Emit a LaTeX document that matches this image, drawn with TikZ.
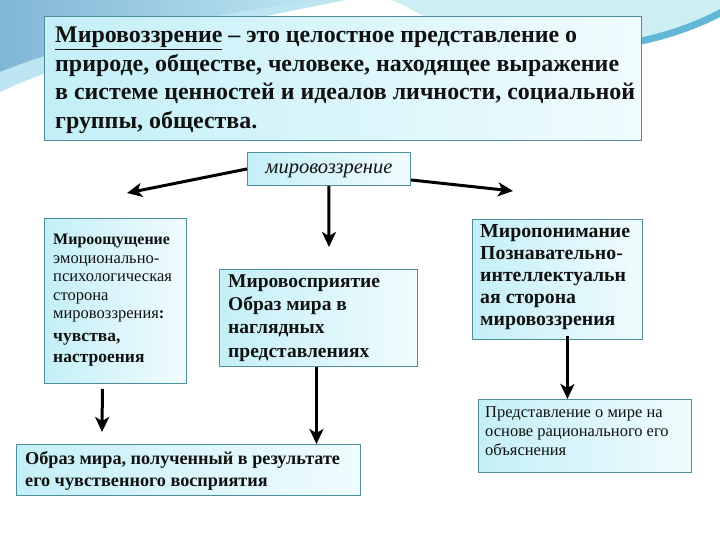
\documentclass[tikz,border=0pt]{standalone}
\usepackage{fontspec}
\setmainfont{Liberation Serif}
\usetikzlibrary{arrows.meta}
\definecolor{bord}{HTML}{4E8E9C}
\definecolor{cyL}{HTML}{C4EFF7}
\definecolor{cyR}{HTML}{F0FCFE}
\definecolor{bgA}{HTML}{80B6D6}
\definecolor{bgB}{HTML}{BDE5F1}
\definecolor{bgC}{HTML}{CDEFF3}
\definecolor{bgS}{HTML}{62B7D6}
\definecolor{ink}{HTML}{111111}
\tikzset{
  box/.style={draw=bord, line width=0.9pt, left color=cyL, right color=cyR, inner sep=0pt, anchor=north west},
  txt/.style={anchor=base west, inner sep=0pt, text=ink, align=left},
  arr/.style={-{Stealth[length=15pt,width=14pt,inset=4pt]}, line width=3pt, black},
}
\begin{document}
\begin{tikzpicture}[x=1pt,y=-1pt]
\useasboundingbox (0,0) rectangle (720,540);
\fill[white] (0,0) rectangle (720,540);
% background decoration
\fill[bgB] (0,0) -- (345,0) .. controls (250,20) and (100,45) .. (0,92) -- cycle;
\shade[left color=bgA, right color=bgB] (0,0) -- (320,0) .. controls (230,12) and (90,35) .. (0,72) -- cycle;
\fill[bgC] (392,0) -- (720,0) -- (720,12) .. controls (700,24) and (670,36) .. (640,44) -- (470,44) .. controls (440,25) and (415,10) .. cycle;
\draw[bgS, line width=7pt] (641,41) .. controls (670,35) and (700,24) .. (722,12);

% boxes
\node[box, minimum width=597pt, minimum height=124pt] (top) at (44,16) {};
\node[box, minimum width=163pt, minimum height=33pt] (mv) at (247,152) {};
\node[box, minimum width=142pt, minimum height=165pt] (lbox) at (44,218) {};
\node[box, minimum width=198pt, minimum height=97pt] (mbox) at (219,269) {};
\node[box, minimum width=170pt, minimum height=120pt] (rbox) at (472,219) {};
\node[box, minimum width=344pt, minimum height=51pt] (blbox) at (16,444) {};
\node[box, minimum width=213pt, minimum height=73pt] (brbox) at (478,399) {};

% texts (base anchor = baseline of last line)
\node[txt, font=\bfseries\fontsize{23.9}{28.5}\selectfont] (ttop) at (55,128.5)
  {\underline{Мировоззрение} – это целостное представление о\\
   природе, обществе, человеке, находящее выражение\\
   в системе ценностей и идеалов личности, социальной\\
   группы, общества.};
\node[font=\itshape\fontsize{20.5}{22}\selectfont, text=ink, inner sep=0pt] (tmv) at ([yshift=-2pt]mv.center) {мировоззрение};

\node[txt, font=\bfseries\fontsize{16}{18}\selectfont] (l1) at (53,244) {Мироощущение};
\node[txt, font=\fontsize{16.5}{18.5}\selectfont] (l2) at (53,318.5)
  {эмоционально-\\психологическая\\сторона\\мировоззрения\textbf{:}};
\node[txt, font=\bfseries\fontsize{17.5}{21}\selectfont] (l3) at (53,362) {чувства,\\настроения};

\node[txt, font=\bfseries\fontsize{19.5}{23.3}\selectfont] (tm) at (228,357)
  {Мировосприятие\\Образ мира в\\наглядных\\представлениях};
\node[txt, font=\bfseries\fontsize{19.8}{22}\selectfont] (tr) at (480,325)
  {Миропонимание\\Познавательно-\\интеллектуальн\\ая сторона\\мировоззрения};
\node[txt, font=\bfseries\fontsize{18.2}{22}\selectfont] (tbl) at (25,486)
  {Образ мира, полученный в результате\\его чувственного восприятия};
\node[txt, font=\fontsize{16.5}{19}\selectfont] (tbr) at (485,455)
  {Представление о мире на\\основе рационального его\\объяснения};

% connectors
\coordinate (lt) at (127,193);
\coordinate (rt) at (513,191);
\coordinate (dt) at (329,247);
\coordinate (lt2) at (102,432);
\draw[arr] (mv.west) -- (lt);
\draw[arr] ([yshift=-11pt]mv.east) -- (rt);
\draw[arr] (mv.south) -- (dt);
\draw[arr] ([xshift=-13pt,yshift=-5pt]lbox.south) -- (lt2);
\draw[arr] ([xshift=-2pt]mbox.south) -- ([xshift=-2pt]mbox.south |- blbox.north);
\draw[arr] ([xshift=10pt,yshift=4pt]rbox.south) -- ([xshift=10pt]rbox.south |- brbox.north);
\end{tikzpicture}
\end{document}
